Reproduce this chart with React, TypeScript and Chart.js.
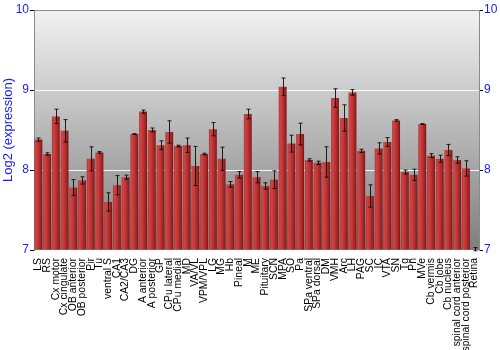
import React, { useEffect, useRef } from 'react';
import { Chart, registerables } from 'chart.js';

Chart.register(...registerables);

const categories = [
  'LS', 'RS', 'Cx motor', 'Cx cingulate', 'OB anterior', 'OB posterior', 'Pir', 'Tu', 'ventral S', 'CA1',
  'CA2/CA3', 'DG', 'A anterior', 'A posterior', 'GP', 'CPu lateral', 'CPu medial', 'MD', 'VA/VL', 'VPM/VPL',
  'LG', 'MG', 'Hb', 'Pineal', 'M', 'ME', 'Pituitary', 'SCN', 'MPA', 'SO',
  'Pa', 'SPa ventral', 'SPa dorsal', 'DM', 'VMH', 'Arc', 'LH', 'PAG', 'SC', 'IC',
  'VTA', 'SN', 'Tg', 'Pn', 'MVe', 'Cb vermis', 'Cb lobe', 'Cb nucleus', 'spinal cord anterior', 'spinal cord posterior',
  'Retina',
];

const expression = [
  8.38, 8.2, 8.67, 8.49, 7.78, 7.87, 8.14, 8.22, 7.6, 7.81,
  7.91, 8.45, 8.73, 8.5, 8.31, 8.475, 8.3, 8.31, 8.05, 8.2,
  8.51, 8.14, 7.82, 7.94, 8.7, 7.91, 7.8, 7.88, 9.04, 8.33,
  8.45, 8.125, 8.09, 8.1, 8.9, 8.65, 8.97, 8.24, 7.675, 8.27,
  8.35, 8.62, 7.975, 7.94, 8.575, 8.18, 8.14, 8.25, 8.125, 8.02,
  7.01,
];

const errors = [
  0.02, 0.015, 0.09, 0.14, 0.1, 0.045, 0.15, 0.01, 0.115, 0.12,
  0.025, 0.005, 0.02, 0.025, 0.055, 0.14, 0.01, 0.09, 0.245, 0.01,
  0.083, 0.145, 0.035, 0.04, 0.06, 0.07, 0.04, 0.11, 0.11, 0.105,
  0.135, 0.015, 0.02, 0.19, 0.115, 0.165, 0.035, 0.02, 0.14, 0.07,
  0.055, 0.01, 0.025, 0.07, 0.005, 0.025, 0.045, 0.07, 0.04, 0.095,
  0.02,
];

const yTicks = [7, 8, 9, 10];

const FONT = "'Liberation Sans', Arial, sans-serif";

const backgroundPlugin = {
  id: 'plotBackground',
  beforeDraw(chart: any) {
    const { ctx, chartArea } = chart;
    if (!chartArea) return;
    const g = ctx.createLinearGradient(0, chartArea.top, 0, chartArea.bottom);
    g.addColorStop(0, '#f2f2f2');
    g.addColorStop(1, '#7e7e7e');
    ctx.save();
    ctx.fillStyle = g;
    ctx.fillRect(chartArea.left, chartArea.top, chartArea.right - chartArea.left, chartArea.bottom - chartArea.top);
    ctx.strokeStyle = '#8a8a8a';
    ctx.lineWidth = 1;
    ctx.beginPath();
    ctx.moveTo(chartArea.left, chartArea.top + 0.5);
    ctx.lineTo(chartArea.right, chartArea.top + 0.5);
    ctx.stroke();
    ctx.restore();
  },
};

const errorBarPlugin = {
  id: 'errorBars',
  afterDatasetsDraw(chart: any) {
    const { ctx, scales } = chart;
    const xs = scales.x;
    const ys = scales.y;
    ctx.save();
    ctx.strokeStyle = 'rgba(0,0,0,0.85)';
    ctx.lineWidth = 1;
    expression.forEach((v, i) => {
      const e = errors[i];
      const x = Math.round(xs.getPixelForValue(i)) + 0.5;
      const yt = ys.getPixelForValue(v + e);
      const yb = ys.getPixelForValue(v - e);
      ctx.beginPath();
      ctx.moveTo(x, yt);
      ctx.lineTo(x, yb);
      ctx.moveTo(x - 2, yt);
      ctx.lineTo(x + 2, yt);
      ctx.moveTo(x - 2, yb);
      ctx.lineTo(x + 2, yb);
      ctx.stroke();
    });
    ctx.restore();
  },
};

export default function App() {
  const ref = useRef<HTMLCanvasElement | null>(null);

  useEffect(() => {
    document.body.style.margin = '0';
    const canvas = ref.current;
    if (!canvas) return;
    const barPct = 0.9;
    const chart = new Chart(canvas, {
      type: 'bar',
      data: {
        labels: categories,
        datasets: [
          {
            data: expression,
            base: 7,
            barPercentage: barPct,
            categoryPercentage: 1.0,
            borderWidth: 0,
            backgroundColor: (c: any) => {
              const ch = c.chart;
              const xs = ch.scales && ch.scales.x;
              if (!ch.chartArea || !xs || c.dataIndex === undefined) return '#c03535';
              const x = xs.getPixelForValue(c.dataIndex);
              const w = ((xs.right - xs.left) / categories.length) * barPct;
              const g = ch.ctx.createLinearGradient(x - w / 2, 0, x + w / 2, 0);
              g.addColorStop(0, '#a32e2e');
              g.addColorStop(0.15, '#d04646');
              g.addColorStop(0.5, '#be3434');
              g.addColorStop(0.85, '#9a2020');
              g.addColorStop(1, '#741010');
              return g;
            },
          } as any,
        ],
      },
      options: {
        animation: false,
        responsive: false,
        layout: { padding: { top: 10, left: 0, right: 0, bottom: 0 } },
        plugins: {
          legend: { display: false },
          tooltip: { enabled: false },
        },
        scales: {
          x: {
            grid: { display: false },
            border: { display: false },
            ticks: {
              autoSkip: false,
              maxRotation: 90,
              minRotation: 90,
              padding: 0,
              color: '#000',
              font: { size: 10.4, family: FONT },
            },
            afterFit: (s: any) => {
              s.height = 100;
            },
          },
          y: {
            position: 'left',
            min: 7,
            max: 10,
            afterBuildTicks: (s: any) => {
              s.ticks = yTicks.map((v) => ({ value: v }));
            },
            grid: {
              color: (c: any) => (c.tick && (c.tick.value === 8 || c.tick.value === 9) ? 'rgba(255,255,255,0.9)' : 'rgba(0,0,0,0)'),
              tickColor: '#000',
              tickLength: 4,
              lineWidth: 1,
            },
            border: { display: true, color: '#8a8a8a' },
            ticks: {
              padding: 1,
              color: '#1a1aff',
              font: { size: 12, family: FONT },
            },
            title: {
              display: true,
              text: 'Log2 (expression)',
              color: '#1a1aff',
              font: { size: 13, family: FONT },
              padding: { top: 1, bottom: 0 },
            },
            afterFit: (s: any) => {
              s.width = 34;
            },
          },
          y2: {
            position: 'right',
            min: 7,
            max: 10,
            afterBuildTicks: (s: any) => {
              s.ticks = yTicks.map((v) => ({ value: v }));
            },
            grid: {
              drawOnChartArea: false,
              tickColor: '#000',
              tickLength: 4,
            },
            border: { display: true, color: '#8a8a8a' },
            ticks: {
              padding: 1,
              color: '#1a1aff',
              font: { size: 12, family: FONT },
            },
            afterFit: (s: any) => {
              s.width = 21;
            },
          },
        },
      } as any,
      plugins: [backgroundPlugin, errorBarPlugin],
    });
    return () => chart.destroy();
  }, []);

  return (
    <div style={{ width: 500, height: 350 }}>
      <canvas ref={ref} width={500} height={350} style={{ display: 'block' }} />
    </div>
  );
}
